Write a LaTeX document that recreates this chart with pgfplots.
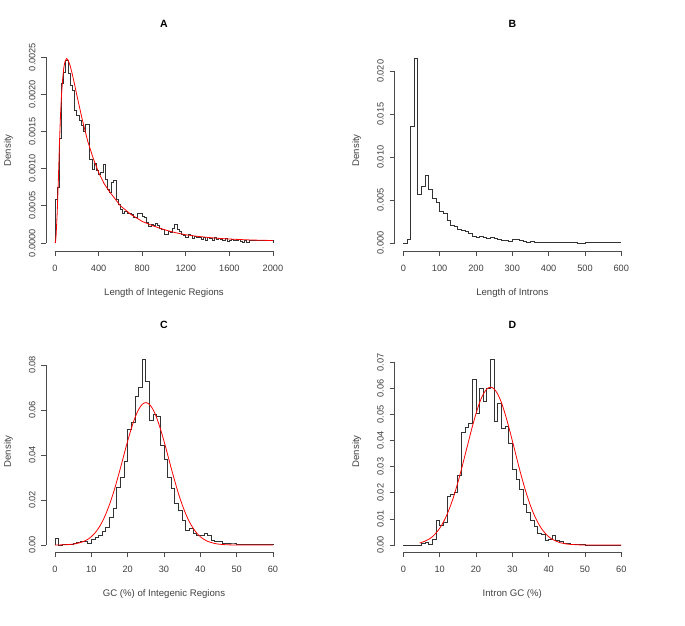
\documentclass[border=0pt]{standalone}
\usepackage{pgfplots}
\pgfplotsset{compat=1.18}
\usepackage{fontspec}
\setmainfont{Liberation Sans}
\definecolor{txt}{gray}{0.25}
\definecolor{ax}{gray}{0.3}
\pgfplotsset{
  rpanel/.style={
    scale only axis, width=235.4pt, height=201.4pt, clip=false,
    axis line style={draw=none},
    tick align=outside, tick pos=left, major tick length=5pt,
    tick style={ax, line width=0.7pt},
    every tick label/.append style={font=\fontsize{9.2}{10}\selectfont, text=txt, inner sep=0pt},
    /pgf/number format/assume math mode=true,
    /pgf/number format/1000 sep={},
    scaled y ticks=false, scaled x ticks=false,
    xticklabel style={anchor=north},
    xticklabel shift=8.7pt,
    yticklabel style={rotate=90, anchor=south},
    yticklabel shift=5.7pt,
    title style={at={(axis description cs:0.5,1.0993)}, anchor=center, font=\bfseries\fontsize{10.5}{12}\selectfont, text=black},
    xlabel style={at={(axis description cs:0.5,-0.2085)}, anchor=center, font=\fontsize{9.6}{11}\selectfont, text=txt},
    ylabel style={at={(axis description cs:-0.1614,0.5)}, anchor=center, font=\fontsize{9.6}{11}\selectfont, text=txt},
    ylabel={Density},
  },
  hist/.style={const plot mark left, no marks, line width=0.8pt, black!80},
  fit/.style={no marks, red, line width=0.8pt},
}
\begin{document}
\begin{tikzpicture}
\useasboundingbox (0pt,0pt) rectangle (685pt,-626pt);
% ---------------- A
\begin{axis}[rpanel, at={(46.28pt,-251pt)}, anchor=south west,
  xmin=-80, xmax=2080, ymin=-0.000108, ymax=0.0026,
  xtick={0,400,800,1200,1600,2000},
  ytick={0,0.0005,0.001,0.0015,0.002,0.0025},
  yticklabel style={/pgf/number format/.cd, fixed, fixed zerofill, precision=4},
  title={A}, xlabel={Length of Integenic Regions}]
\draw[ax, line width=0.7pt] (axis cs:0,-0.000108) -- (axis cs:2000,-0.000108);
\draw[ax, line width=0.7pt] (axis cs:-80,0) -- (axis cs:-80,0.0025);
\addplot[hist] coordinates {
(0,0) (0,0.00058) (20,0.00075) (40,0.00140) (60,0.00215) (80,0.00230) (100,0.00245)
(120,0.00228) (140,0.00212) (160,0.00205) (180,0.00178) (200,0.00172) (220,0.00165)
(240,0.00158) (260,0.00150) (280,0.00160) (300,0.00160) (320,0.00112) (340,0.00099)
(360,0.00107) (380,0.00098) (400,0.00092) (420,0.00095) (440,0.00106) (460,0.00085)
(480,0.00072) (500,0.00068) (520,0.00082) (540,0.00084) (560,0.00058) (580,0.00052)
(600,0.00045) (620,0.00040) (640,0.00043) (660,0.00040) (680,0.00040) (700,0.00038)
(720,0.00035) (740,0.00035) (760,0.00040) (780,0.00040) (800,0.00036) (820,0.00035)
(840,0.00028) (860,0.00022) (880,0.00025) (900,0.00024) (920,0.00026) (940,0.00024)
(960,0.00020) (980,0.00018) (1000,0.00012) (1020,0.00012) (1040,0.00016) (1060,0.00014)
(1080,0.00020) (1100,0.00025) (1120,0.00018) (1140,0.00015) (1160,0.00012) (1180,0.00010)
(1200,0.00008) (1220,0.00012) (1240,0.00010) (1260,0.00006) (1280,0.00009) (1300,0.00008)
(1320,0.00007) (1340,0.00005) (1360,0.00008) (1380,0.00003) (1400,0.00007) (1420,0.00006)
(1440,0.00004) (1460,0.00008) (1480,0.00005) (1500,0.00006) (1520,0.00005) (1540,0.00004)
(1560,0.00006) (1580,0.00002) (1600,0.00003) (1620,0.00005) (1640,0.00003) (1660,0.00004)
(1680,0.00005) (1700,0.00002) (1720,0.00001) (1740,0.00003) (1760,0.00001) (1780,0.00003)
(1800,0.00004) (2000,0.00004) (2000,0)
};
\addplot[fit] coordinates {
(0,0) (5,0.00002) (10,0.00010) (15,0.00025) (20,0.00040) (25,0.00060) (30,0.00080)
(35,0.00105) (40,0.00130) (45,0.00150) (50,0.00170) (60,0.00200) (70,0.00220)
(80,0.00235) (90,0.00243) (105,0.00248) (120,0.00246) (140,0.00238) (160,0.00226)
(180,0.00213) (200,0.00199) (250,0.00166) (300,0.00137) (350,0.00114) (400,0.00095)
(450,0.00080) (500,0.00069) (600,0.00050) (700,0.00038) (800,0.00029) (900,0.00023)
(1000,0.00018) (1100,0.00014) (1200,0.00011) (1300,0.00009) (1400,0.000075)
(1500,0.000062) (1600,0.000053) (1700,0.000046) (1800,0.000040) (1900,0.000036) (2000,0.000033)
};
\end{axis}
% ---------------- B
\begin{axis}[rpanel, at={(394.6pt,-251pt)}, anchor=south west,
  xmin=-24, xmax=624, ymin=-0.00093, ymax=0.02253,
  xtick={0,100,200,300,400,500,600},
  ytick={0,0.005,0.01,0.015,0.02},
  yticklabel style={/pgf/number format/.cd, fixed, fixed zerofill, precision=3},
  title={B}, xlabel={Length of Introns}]
\draw[ax, line width=0.7pt] (axis cs:0,-0.00093) -- (axis cs:600,-0.00093);
\draw[ax, line width=0.7pt] (axis cs:-24,0) -- (axis cs:-24,0.02);
\addplot[hist] coordinates {
(0,0) (10,0.0004) (20,0.0136) (30,0.0215) (40,0.0057) (50,0.0066) (60,0.0079)
(70,0.0062) (80,0.0052) (90,0.0047) (100,0.0037) (110,0.0034) (120,0.0026)
(130,0.0021) (140,0.0019) (150,0.0016) (160,0.0015) (170,0.0013) (180,0.0011)
(190,0.0008) (200,0.0007) (210,0.0008) (220,0.0006) (230,0.0005) (240,0.0006)
(250,0.0005) (260,0.0004) (270,0.0003) (280,0.0003) (290,0.0002) (300,0.0004)
(310,0.0004) (320,0.0003) (330,0.0002) (340,0.0001) (350,0.0002) (360,0.0001)
(370,0.0001) (380,0.00005) (480,0.0) (500,0.00012) (600,0.00012)
};
\end{axis}
% ---------------- C
\begin{axis}[rpanel, at={(46.28pt,-552pt)}, anchor=south west,
  xmin=-2.4, xmax=62.4, ymin=-0.0031, ymax=0.0864,
  xtick={0,10,20,30,40,50,60},
  ytick={0,0.02,0.04,0.06,0.08},
  yticklabel style={/pgf/number format/.cd, fixed, fixed zerofill, precision=2},
  title={C}, xlabel={GC (\%) of Integenic Regions}]
\draw[ax, line width=0.7pt] (axis cs:0,-0.0031) -- (axis cs:60,-0.0031);
\draw[ax, line width=0.7pt] (axis cs:-2.4,0) -- (axis cs:-2.4,0.08);
\addplot[hist] coordinates {
(0,0) (0,0.0030) (1,0.0) (2,0.0002) (3,0.0004) (4,0.0005) (5,0.0008) (6,0.0010)
(7,0.0014) (8,0.0015) (9,0.0008) (10,0.0025) (11,0.0035) (12,0.0045) (13,0.0060)
(14,0.0080) (15,0.0125) (16,0.0165) (17,0.0255) (18,0.0300) (19,0.0370) (20,0.0515)
(21,0.0545) (22,0.0660) (23,0.0700) (24,0.0825) (25,0.0725) (26,0.0556) (27,0.0580)
(28,0.0570) (29,0.0444) (30,0.0380) (31,0.0300) (32,0.0253) (33,0.0185) (34,0.0156)
(35,0.0110) (36,0.0067) (37,0.0076) (38,0.0053) (39,0.0044) (40,0.0044) (41,0.0053)
(42,0.0045) (43,0.0022) (44,0.0015) (45,0.0015) (46,0.0007) (47,0.0007) (48,0.0009)
(49,0.0009) (50,0.0002) (58,0.0005) (60,0.0005) (60,0)
};
\addplot[fit, smooth] coordinates {
(0,0.00002) (2,0.00008) (4,0.00024) (6,0.00067) (8,0.00166) (9,0.00251) (10,0.00372)
(11,0.00536) (12,0.00753) (13,0.0103) (14,0.0138) (15,0.0180) (16,0.0228) (17,0.0283)
(18,0.0341) (19,0.0402) (20,0.0462) (21,0.0517) (22,0.0565) (23,0.0602) (24,0.0625)
(25,0.0633) (26,0.0625) (27,0.0602) (28,0.0565) (29,0.0517) (30,0.0462) (31,0.0402)
(32,0.0341) (33,0.0283) (34,0.0228) (35,0.0180) (36,0.0138) (37,0.0103) (38,0.00753)
(39,0.00536) (40,0.00372) (41,0.00251) (42,0.00166) (44,0.00067) (46,0.00024)
(48,0.00008) (50,0.00002) (55,0) (60,0)
};
\end{axis}
% ---------------- D
\begin{axis}[rpanel, at={(394.6pt,-552pt)}, anchor=south west,
  xmin=-2.4, xmax=62.4, ymin=-0.00268, ymax=0.0745,
  xtick={0,10,20,30,40,50,60},
  ytick={0,0.01,0.02,0.03,0.04,0.05,0.06,0.07},
  yticklabel style={/pgf/number format/.cd, fixed, fixed zerofill, precision=2},
  title={D}, xlabel={Intron GC (\%)}]
\draw[ax, line width=0.7pt] (axis cs:0,-0.00268) -- (axis cs:60,-0.00268);
\draw[ax, line width=0.7pt] (axis cs:-2.4,0) -- (axis cs:-2.4,0.07);
\addplot[hist] coordinates {
(0,0) (5,0.0006) (6,0.0010) (7,0.0004) (8,0.0022) (9,0.0096) (10,0.0077) (11,0.0085)
(12,0.0186) (13,0.0195) (14,0.0200) (15,0.0268) (16,0.0430) (17,0.0450) (18,0.0466)
(19,0.0635) (20,0.0503) (21,0.0600) (22,0.0550) (23,0.0600) (24,0.0712) (25,0.0472)
(26,0.0542) (27,0.0446) (28,0.0453) (29,0.0390) (30,0.0290) (31,0.0250) (32,0.0212)
(33,0.0155) (34,0.0125) (35,0.0095) (36,0.0070) (37,0.0045) (38,0.0040) (39,0.0018)
(40,0.0022) (41,0.0038) (42,0.0018) (43,0.0013) (44,0.0006) (45,0.0006) (46,0.0004)
(47,0.0003) (50,0.0) (60,0.0)
};
\addplot[fit, smooth] coordinates {
(4.5,0.00077) (5,0.00096) (6,0.0015) (7,0.0022) (8,0.0032) (9,0.0046) (10,0.0064)
(11,0.0087) (12,0.0116) (13,0.0151) (14,0.0192) (15,0.0239) (16,0.0290) (17,0.0345)
(18,0.0400) (19,0.0454) (20,0.0503) (21,0.0546) (22,0.0578) (23,0.0598) (24,0.0605)
(25,0.0598) (26,0.0578) (27,0.0546) (28,0.0503) (29,0.0454) (30,0.0400) (31,0.0345)
(32,0.0290) (33,0.0239) (34,0.0192) (35,0.0151) (36,0.0116) (37,0.0087) (38,0.0064)
(39,0.0046) (40,0.0032) (41,0.0022) (42,0.0015) (43,0.00096) (44,0.00061) (45,0.00038)
(46,0.00023) (48,0.00008) (50,0.00002) (55,0) (60,0)
};
\end{axis}
\end{tikzpicture}
\end{document}
